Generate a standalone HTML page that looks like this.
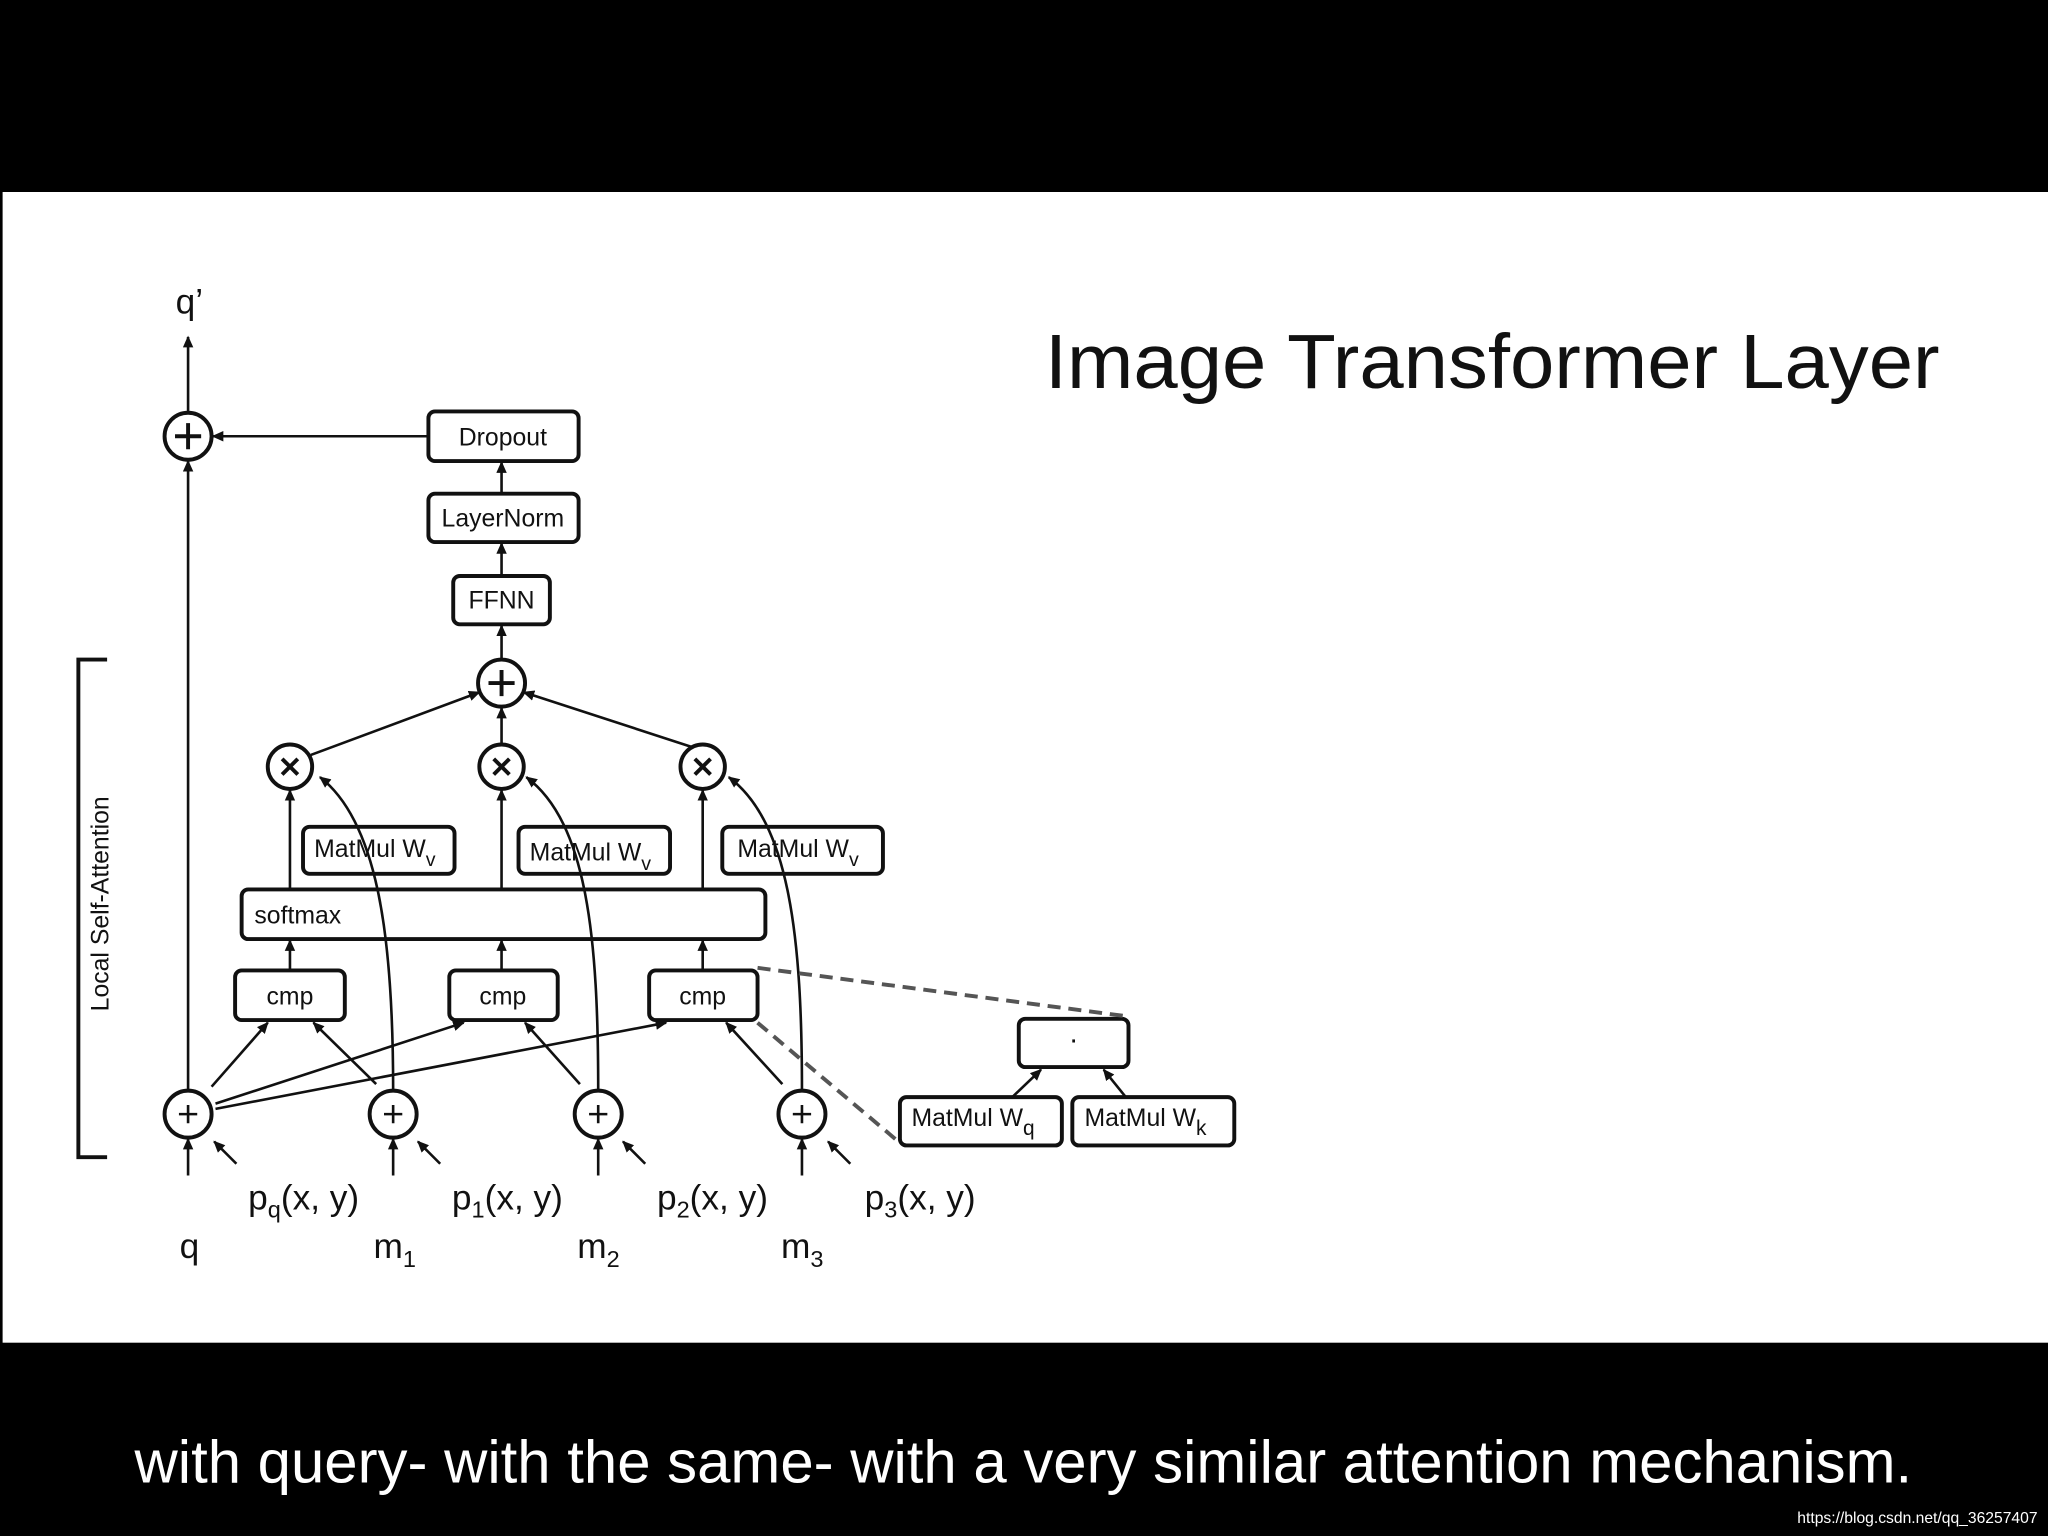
<!DOCTYPE html>
<html><head><meta charset="utf-8"><style>
html,body{margin:0;padding:0;background:#000;}
svg{display:block;}
</style></head><body>
<svg width="2048" height="1536" viewBox="0 0 1568 1176" xmlns="http://www.w3.org/2000/svg" font-family="Liberation Sans, sans-serif">
<defs>
<marker id="a" markerWidth="10" markerHeight="10" refX="8" refY="4" orient="auto" markerUnits="userSpaceOnUse">
<path d="M0,0 L9,4 L0,8 z" fill="#111"/></marker>
</defs>
<rect x="0" y="0" width="1568" height="1176" fill="#000"/>
<rect x="2" y="147" width="1566" height="881" fill="#fff"/>
<text x="800" y="297" font-size="59" fill="#111" textLength="685" lengthAdjust="spacingAndGlyphs">Image Transformer Layer</text>
<text x="103" y="1135" font-size="46" fill="#fff" textLength="1361" lengthAdjust="spacingAndGlyphs">with query- with the same- with a very similar attention mechanism.</text>
<text x="1560" y="1166" font-size="12" fill="#fff" text-anchor="end">https://blog.csdn.net/qq_36257407</text>

<g stroke="#111" stroke-width="2" fill="none">
<path d="M82,505 L60,505 L60,886 L82,886" stroke-width="3"/>
<rect x="328" y="315" width="115" height="38" rx="5" stroke-width="3"/>
<rect x="328" y="378" width="115" height="37" rx="5" stroke-width="3"/>
<rect x="347" y="441" width="74" height="37" rx="5" stroke-width="3"/>
<rect x="232" y="633" width="116" height="36" rx="5" stroke-width="3"/>
<rect x="397" y="633" width="116" height="36" rx="5" stroke-width="3"/>
<rect x="553" y="633" width="123" height="36" rx="5" stroke-width="3"/>
<rect x="185" y="681" width="401" height="38" rx="5" stroke-width="3"/>
<rect x="180" y="743" width="84" height="38" rx="5" stroke-width="3"/>
<rect x="344" y="743" width="83" height="38" rx="5" stroke-width="3"/>
<rect x="497" y="743" width="83" height="38" rx="5" stroke-width="3"/>
<rect x="780" y="780" width="84" height="37" rx="5" stroke-width="3"/>
<rect x="689" y="840" width="124" height="37" rx="5" stroke-width="3"/>
<rect x="821" y="840" width="124" height="37" rx="5" stroke-width="3"/>
<circle cx="144" cy="334" r="18" stroke-width="3"/>
<circle cx="384" cy="523" r="18" stroke-width="3"/>
<circle cx="222" cy="587" r="17" stroke-width="3"/>
<circle cx="384" cy="587" r="17" stroke-width="3"/>
<circle cx="538" cy="587" r="17" stroke-width="3"/>
<circle cx="144" cy="853" r="18" stroke-width="3"/>
<circle cx="301" cy="853" r="18" stroke-width="3"/>
<circle cx="458" cy="853" r="18" stroke-width="3"/>
<circle cx="614" cy="853" r="18" stroke-width="3"/>
<path d="M134,334h20M144,324v20 M374,523h20M384,513v20" stroke-width="3"/>
<path d="M137,853h14M144,846v14 M294,853h14M301,846v14 M451,853h14M458,846v14 M607,853h14M614,846v14" stroke-width="2"/>
<path d="M216,581l12,12M228,581l-12,12 M378,581l12,12M390,581l-12,12 M532,581l12,12M544,581l-12,12" stroke-width="3"/>
<g marker-end="url(#a)">
<line x1="144" y1="316" x2="144" y2="258"/>
<line x1="328" y1="334" x2="163" y2="334"/>
<line x1="144" y1="835" x2="144" y2="353"/>
<line x1="384" y1="378" x2="384" y2="354"/>
<line x1="384" y1="441" x2="384" y2="416"/>
<line x1="384" y1="505" x2="384" y2="479"/>
<line x1="238" y1="578" x2="367" y2="530"/>
<line x1="384" y1="570" x2="384" y2="542"/>
<line x1="530" y1="572" x2="401" y2="530"/>
<line x1="222" y1="681" x2="222" y2="605"/>
<line x1="384" y1="681" x2="384" y2="605"/>
<line x1="538" y1="681" x2="538" y2="605"/>
<line x1="222" y1="743" x2="222" y2="720"/>
<line x1="384" y1="743" x2="384" y2="720"/>
<line x1="538" y1="743" x2="538" y2="720"/>
<line x1="162" y1="832" x2="205" y2="783"/>
<line x1="165" y1="845" x2="355" y2="783"/>
<line x1="165" y1="849" x2="510" y2="783"/>
<line x1="288" y1="830" x2="240" y2="783"/>
<line x1="444" y1="830" x2="402" y2="783"/>
<line x1="599" y1="830" x2="556" y2="783"/>
<path d="M301,835 C301,720 290,630 245,595"/>
<path d="M458,835 C458,720 450,630 403,595"/>
<path d="M614,835 C614,720 605,630 558,595"/>
<line x1="775" y1="840" x2="797" y2="819"/>
<line x1="862" y1="840" x2="845" y2="819"/>
<line x1="144" y1="900" x2="144" y2="872"/>
<line x1="301" y1="900" x2="301" y2="872"/>
<line x1="458" y1="900" x2="458" y2="872"/>
<line x1="614" y1="900" x2="614" y2="872"/>
<line x1="181" y1="891" x2="164" y2="874"/>
<line x1="337" y1="891" x2="320" y2="874"/>
<line x1="494" y1="891" x2="477" y2="874"/>
<line x1="651" y1="891" x2="634" y2="874"/>
</g>
<line x1="580" y1="741" x2="862" y2="778" stroke="#555" stroke-width="3" stroke-dasharray="10,6"/>
<line x1="580" y1="783" x2="689" y2="875" stroke="#555" stroke-width="3" stroke-dasharray="10,6"/>
</g>

<g fill="#111" font-size="19" text-anchor="middle">
<text x="385" y="341">Dropout</text>
<text x="385" y="403">LayerNorm</text>
<text x="384" y="466">FFNN</text>
<text x="287" y="656">MatMul W<tspan font-size="15" dy="7">v</tspan></text>
<text x="452" y="659">MatMul W<tspan font-size="15" dy="7">v</tspan></text>
<text x="611" y="656">MatMul W<tspan font-size="15" dy="7">v</tspan></text>
<text x="228" y="707">softmax</text>
<text x="222" y="769">cmp</text>
<text x="385" y="769">cmp</text>
<text x="538" y="769">cmp</text>
<text x="822" y="803" font-size="22">·</text>
<text x="745" y="862">MatMul W<tspan font-size="16" dy="7">q</tspan></text>
<text x="877" y="862">MatMul W<tspan font-size="16" dy="7">k</tspan></text>
</g>
<g fill="#111" font-size="27">
<text x="145" y="240" text-anchor="middle">q’</text>
<text x="190" y="926">p<tspan font-size="18" dy="6">q</tspan><tspan dy="-6">(x, y)</tspan></text>
<text x="346" y="926">p<tspan font-size="18" dy="6">1</tspan><tspan dy="-6">(x, y)</tspan></text>
<text x="503" y="926">p<tspan font-size="18" dy="6">2</tspan><tspan dy="-6">(x, y)</tspan></text>
<text x="662" y="926">p<tspan font-size="18" dy="6">3</tspan><tspan dy="-6">(x, y)</tspan></text>
<text x="145" y="963" text-anchor="middle">q</text>
<text x="286" y="963">m<tspan font-size="18" dy="7">1</tspan></text>
<text x="442" y="963">m<tspan font-size="18" dy="7">2</tspan></text>
<text x="598" y="963">m<tspan font-size="18" dy="7">3</tspan></text>
</g>
<text transform="translate(83,692) rotate(-90)" font-size="19" fill="#111" text-anchor="middle">Local Self-Attention</text>
</svg>
</body></html>
